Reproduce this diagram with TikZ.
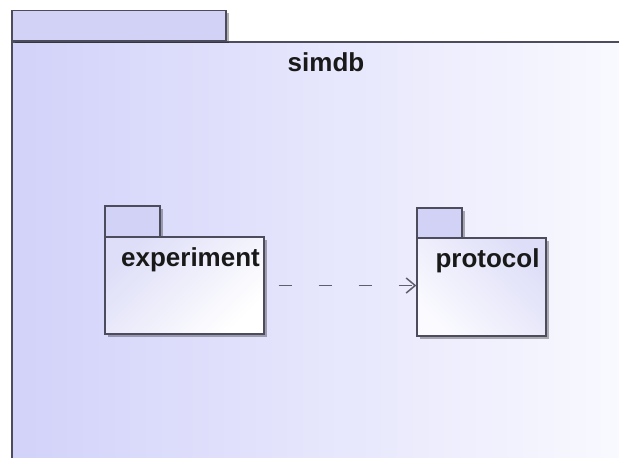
\documentclass[tikz,border=0pt]{standalone}
\usepackage{fontspec}
\setmainfont{Liberation Sans}
\usetikzlibrary{arrows.meta,shadows}

\definecolor{pkgline}{HTML}{4C4C5C}
\definecolor{pkgtabfill}{HTML}{D2D2F6}
\definecolor{pkgdark}{HTML}{D2D2FA}
\definecolor{pkgmid}{HTML}{DEDEF8}
\definecolor{pkglight}{HTML}{FAFAFF}

\tikzset{
  pkgshadow/.style={drop shadow={shadow xshift=2.5pt, shadow yshift=-2.5pt, opacity=0.3, fill=black}},
  pkgbody/.style={shape=rectangle, draw=pkgline, line width=1.3pt, inner sep=0pt},
  pkgtab/.style={shape=rectangle, draw=pkgline, line width=1.3pt, inner sep=0pt, fill=pkgtabfill, pkgshadow},
  pkglabel/.style={inner sep=0pt, anchor=base, font=\fontsize{26}{30}\selectfont\bfseries, text=black!90},
  dep/.style={draw=pkgline!90, line width=1.5pt, dash pattern=on 13pt off 27pt, -{Straight Barb[length=9pt, width=15pt]}}
}

\begin{document}
\begin{tikzpicture}[x=1pt, y=-1pt]
    \useasboundingbox (0,0) rectangle (619,458);
    \fill[white] (0,0) rectangle (619,458);
    \begin{scope}
    \clip (0,0) rectangle (619,458);
    % outer package
    \node[pkgbody, minimum width=628pt, minimum height=428pt, left color=pkgdark, right color=pkglight] at (326,256) (simdbBody) {};
    \node[pkgtab, anchor=south west, minimum width=214pt, minimum height=30pt] at (simdbBody.north west) (simdbTab) {};
    \draw[pkgline, line width=1.3pt] (simdbBody.north west) -- (simdbBody.north east);
    \node[pkglabel] at ([yshift=-30pt]simdbBody.north) (simdbLabel) {simdb};
    \end{scope}
    % inner packages
    \node[pkgtab, minimum width=55pt, minimum height=31pt] at (132.5,221.5) (expTab) {};
    \node[pkgbody, pkgshadow, minimum width=159pt, minimum height=97pt, top color=pkgmid, bottom color=white, shading angle=45] at (184.5,285.5) (expBody) {};
    \node[pkglabel] at ([xshift=6pt, yshift=-30pt]expBody.north) (expLabel) {experiment};
    \node[pkgtab, minimum width=45pt, minimum height=30pt] at (439.5,223) (protTab) {};
    \node[pkgbody, pkgshadow, minimum width=129pt, minimum height=98pt, top color=pkgmid, bottom color=pkglight, shading angle=-45] at (481.5,287) (protBody) {};
    \node[pkglabel] at ([xshift=6pt, yshift=-30pt]protBody.north) (protLabel) {protocol};
    % dependency
    \draw[dep, shorten <=14pt] (expBody.east) -- (expBody.east -| protBody.west);
\end{tikzpicture}
\end{document}
